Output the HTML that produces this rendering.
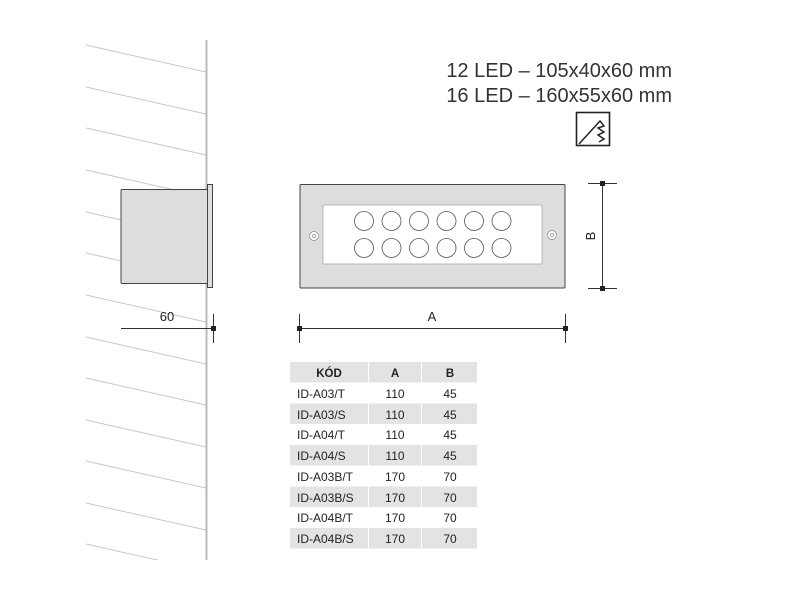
<!DOCTYPE html>
<html><head><meta charset="utf-8"><style>
body{margin:0;background:#fff;width:800px;height:600px;overflow:hidden;font-family:"Liberation Sans",sans-serif}
svg{position:absolute;left:0;top:0}
</style></head><body>
<svg width="800" height="600" viewBox="0 0 800 600" xmlns="http://www.w3.org/2000/svg">
<defs><clipPath id="c"><rect x="0" y="0" width="206" height="560"/></clipPath></defs>
<g stroke="#c8c8c8" stroke-width="1" clip-path="url(#c)">
<line x1="86" y1="45" x2="206" y2="72"/>
<line x1="86" y1="87" x2="206" y2="114"/>
<line x1="86" y1="128" x2="206" y2="155"/>
<line x1="86" y1="170" x2="206" y2="197"/>
<line x1="86" y1="212" x2="206" y2="239"/>
<line x1="86" y1="253" x2="206" y2="280"/>
<line x1="86" y1="295" x2="206" y2="322"/>
<line x1="86" y1="337" x2="206" y2="364"/>
<line x1="86" y1="378" x2="206" y2="405"/>
<line x1="86" y1="420" x2="206" y2="447"/>
<line x1="86" y1="461" x2="206" y2="488"/>
<line x1="86" y1="503" x2="206" y2="530"/>
<line x1="86" y1="544" x2="206" y2="571"/>
</g>
<line x1="206.5" y1="40" x2="206.5" y2="560" stroke="#bbb" stroke-width="2"/>
<rect x="121" y="189.5" width="87" height="94" fill="#ddd" stroke="#444" stroke-width="1" rx="1"/>
<rect x="207.5" y="184.5" width="5" height="103" fill="#ddd" stroke="#444" stroke-width="1"/>
<rect x="300" y="184.5" width="265" height="103.5" fill="#ddd" stroke="#444" stroke-width="1" rx="1"/>
<rect x="323" y="205" width="219" height="59" fill="#fff" stroke="#aaa" stroke-width="0.8"/>
<g fill="none" stroke="#555" stroke-width="0.8">
<circle cx="364" cy="221" r="9.5"/><circle cx="391.5" cy="221" r="9.5"/><circle cx="419" cy="221" r="9.5"/><circle cx="446.5" cy="221" r="9.5"/><circle cx="474" cy="221" r="9.5"/><circle cx="501.5" cy="221" r="9.5"/>
<circle cx="364" cy="248" r="9.5"/><circle cx="391.5" cy="248" r="9.5"/><circle cx="419" cy="248" r="9.5"/><circle cx="446.5" cy="248" r="9.5"/><circle cx="474" cy="248" r="9.5"/><circle cx="501.5" cy="248" r="9.5"/>
</g>
<g fill="#fff" stroke="#888" stroke-width="0.7">
<circle cx="314" cy="236" r="4.5"/><circle cx="314" cy="236" r="1.5"/>
<circle cx="552" cy="235" r="4.5"/><circle cx="552" cy="235" r="1.5"/>
</g>
<g stroke="#333" stroke-width="1">
<line x1="121" y1="328.5" x2="213" y2="328.5"/>
<line x1="213.5" y1="314" x2="213.5" y2="343"/>
<line x1="300" y1="328.5" x2="565" y2="328.5"/>
<line x1="299.5" y1="314" x2="299.5" y2="343"/>
<line x1="565.5" y1="314" x2="565.5" y2="343"/>
<line x1="602.5" y1="183" x2="602.5" y2="288"/>
<line x1="588" y1="183.5" x2="617" y2="183.5"/>
<line x1="588" y1="288.5" x2="617" y2="288.5"/>
</g>
<g fill="#222">
<rect x="211" y="326" width="5" height="5"/><rect x="297" y="326" width="5" height="5"/><rect x="563" y="326" width="5" height="5"/>
<rect x="600" y="181" width="5" height="5"/><rect x="600" y="286" width="5" height="5"/>
</g>
<g font-family="Liberation Sans, sans-serif" fill="#222">
<text x="167" y="321" font-size="13" text-anchor="middle">60</text>
<text x="432" y="321" font-size="13" text-anchor="middle">A</text>
<text x="595" y="236" font-size="13" text-anchor="middle" transform="rotate(-90 595 236)">B</text>
<text x="672" y="77" font-size="20" text-anchor="end" fill="#333">12 LED – 105x40x60 mm</text>
<text x="672" y="102" font-size="20" text-anchor="end" fill="#333">16 LED – 160x55x60 mm</text>
</g>
<rect x="576.5" y="112.5" width="33" height="33" fill="none" stroke="#222" stroke-width="1.6"/>
<path d="M579 144 L600 121 L604 126 L598 128 L604 132 L598 135 L604 139 L599 142" fill="none" stroke="#222" stroke-width="1.5"/>
<g>
<rect x="290" y="362" width="78" height="20.5" fill="#e3e3e3"/><rect x="369" y="362" width="52" height="20.5" fill="#e3e3e3"/><rect x="422" y="362" width="55" height="20.5" fill="#e3e3e3"/>
<rect x="290" y="403.5" width="187" height="20.5" fill="#e3e3e3"/>
<rect x="290" y="445" width="187" height="20.5" fill="#e3e3e3"/>
<rect x="290" y="486.5" width="187" height="20.5" fill="#e3e3e3"/>
<rect x="290" y="528" width="187" height="20.5" fill="#e3e3e3"/>
<line x1="368.5" y1="362" x2="368.5" y2="548" stroke="#fff"/><line x1="421.5" y1="362" x2="421.5" y2="548" stroke="#fff"/>
</g>
<g font-family="Liberation Sans, sans-serif" font-size="12" fill="#222">
<text x="329" y="377" text-anchor="middle" font-weight="bold" font-size="11.5">KÓD</text><text x="395" y="377" text-anchor="middle" font-weight="bold" font-size="11.5">A</text><text x="450" y="377" text-anchor="middle" font-weight="bold" font-size="11.5">B</text>
<text x="297" y="398">ID-A03/T</text><text x="395" y="398" text-anchor="middle">110</text><text x="450" y="398" text-anchor="middle">45</text>
<text x="297" y="419">ID-A03/S</text><text x="395" y="419" text-anchor="middle">110</text><text x="450" y="419" text-anchor="middle">45</text>
<text x="297" y="439">ID-A04/T</text><text x="395" y="439" text-anchor="middle">110</text><text x="450" y="439" text-anchor="middle">45</text>
<text x="297" y="460">ID-A04/S</text><text x="395" y="460" text-anchor="middle">110</text><text x="450" y="460" text-anchor="middle">45</text>
<text x="297" y="481">ID-A03B/T</text><text x="395" y="481" text-anchor="middle">170</text><text x="450" y="481" text-anchor="middle">70</text>
<text x="297" y="502">ID-A03B/S</text><text x="395" y="502" text-anchor="middle">170</text><text x="450" y="502" text-anchor="middle">70</text>
<text x="297" y="522">ID-A04B/T</text><text x="395" y="522" text-anchor="middle">170</text><text x="450" y="522" text-anchor="middle">70</text>
<text x="297" y="543">ID-A04B/S</text><text x="395" y="543" text-anchor="middle">170</text><text x="450" y="543" text-anchor="middle">70</text>
</g>
</svg>
</body></html>
